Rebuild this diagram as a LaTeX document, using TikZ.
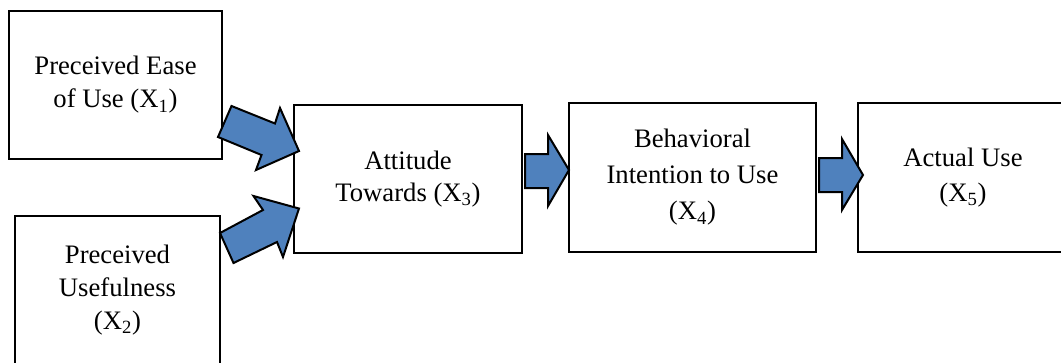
\documentclass[tikz,border=0pt]{standalone}
\usepackage{fontspec}
\setmainfont{Liberation Serif}
\definecolor{arrowblue}{RGB}{79,129,189}
\begin{document}
\begin{tikzpicture}[x=0.75pt,y=-0.75pt,
  box/.style={draw=black, line width=1.6pt, fill=white, inner sep=0pt, align=center},
  blockarrow/.style={draw=black, line width=1.5pt, fill=arrowblue, line join=miter}]
\useasboundingbox (0,0) rectangle (1061,362);
\clip (0,0) rectangle (1061,362);
\node[box, minimum width=159.75pt, minimum height=111pt, font=\fontsize{20}{24.75}\selectfont] (pe) at (115.5,85) {Preceived Ease\\of Use (X\textsubscript{1})};
\node[box, minimum width=153.75pt, minimum height=111pt, font=\fontsize{20}{25}\selectfont] (pu) at (117.5,290) {Preceived\\Usefulness\\(X\textsubscript{2})};
\node[box, minimum width=171pt, minimum height=111pt, font=\fontsize{20}{24}\selectfont] (at) at (408,179) {Attitude\\Towards (X\textsubscript{3})};
\node[box, minimum width=185.25pt, minimum height=111.75pt, font=\fontsize{20}{27}\selectfont] (bi) at (692.5,177.5) {Behavioral\\Intention to Use\\(X\textsubscript{4})};
\node[box, minimum width=157.5pt, minimum height=111.75pt, font=\fontsize{20}{26}\selectfont] (au) at (963,177.5) {Actual Use\\(X\textsubscript{5})};
% block arrows
\draw[blockarrow] (218,137) -- (231.5,106) -- (275,123.5) -- (280,108) -- (299,151) -- (256,170) -- (261.5,155) -- cycle;
\draw[blockarrow] (220,233) -- (263,210) -- (253.5,196) -- (299,208.5) -- (283,257) -- (277,242) -- (233.5,263) -- cycle;
\draw[blockarrow] (525,154) -- (548,154) -- (548,135) -- (569,170) -- (548,206) -- (548,188) -- (525,188) -- cycle;
\draw[blockarrow] (819,158) -- (842,158) -- (842,139) -- (863,175) -- (842,210) -- (842,192) -- (819,192) -- cycle;
\end{tikzpicture}
\end{document}
